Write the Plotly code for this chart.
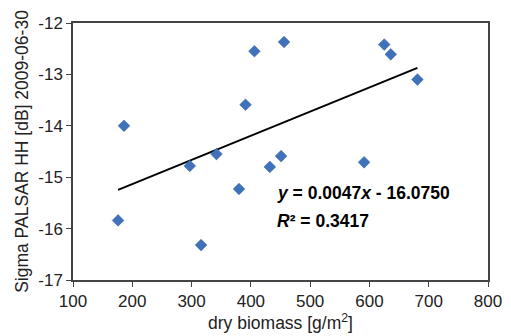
import plotly.graph_objects as go

# Data
dry_biomass = [176, 186, 297, 316, 342, 380, 391, 406, 432, 451, 456, 591, 625, 636, 681]
sigma_hh = [-15.84, -14.00, -14.78, -16.32, -14.55, -15.23, -13.59, -12.55, -14.80, -14.59,
            -12.37, -14.71, -12.42, -12.61, -13.10]

# Linear trend line parameters (as printed in chart)
slope = 0.0047
intercept = -16.0750
r_squared = 0.3417

x_tick_vals = [100, 200, 300, 400, 500, 600, 700, 800]
x_tick_text = ["100", "200", "300", "400", "500", "600", "700", "800"]
y_tick_vals = [-17, -16, -15, -14, -13, -12]
y_tick_text = ["-17", "-16", "-15", "-14", "-13", "-12"]

x_line = [min(dry_biomass), max(dry_biomass)]
y_line = [slope * v + intercept for v in x_line]

font_family = "Liberation Sans, Arial, sans-serif"

fig = go.Figure()
fig.add_trace(go.Scatter(
    x=x_line, y=y_line, mode="lines",
    line=dict(color="black", width=2), showlegend=False, hoverinfo="skip"))
fig.add_trace(go.Scatter(
    x=dry_biomass, y=sigma_hh, mode="markers",
    marker=dict(symbol="diamond", size=9, color="#3F72BA",
                line=dict(color="#2F5C9E", width=0.5)),
    showlegend=False))

fig.add_annotation(x=441, y=-15.31, xref="x", yref="y", xanchor="left", yanchor="middle",
                   text="<b><i>y</i> = %.4f<i>x</i> - %.4f</b>" % (slope, abs(intercept)),
                   showarrow=False, font=dict(size=17.5, color="black", family=font_family))
fig.add_annotation(x=441, y=-15.85, xref="x", yref="y", xanchor="left", yanchor="middle",
                   text="<b><i>R</i>² = %.4f</b>" % r_squared,
                   showarrow=False, font=dict(size=17.5, color="black", family=font_family))

fig.update_layout(
    width=511, height=336,
    margin=dict(l=73, r=23, t=23, b=56),
    paper_bgcolor="white", plot_bgcolor="white",
    font=dict(family=font_family, size=17, color="#222"),
)
fig.update_xaxes(
    range=[100, 800], tickvals=x_tick_vals, ticktext=x_tick_text,
    showgrid=False, zeroline=False,
    showline=True, mirror=True, linecolor="#444", linewidth=1.5,
    ticks="outside", ticklen=5, tickcolor="#444",
    title=dict(text="dry biomass [g/m<sup>2</sup>]", font=dict(size=17.5), standoff=5),
    automargin=False,
)
fig.update_yaxes(
    range=[-17, -12], tickvals=y_tick_vals, ticktext=y_tick_text,
    showgrid=False, zeroline=False,
    showline=True, mirror=True, linecolor="#444", linewidth=1.5,
    ticks="outside", ticklen=5, tickcolor="#444",
    title=dict(text="Sigma PALSAR HH [dB] 2009-06-30", font=dict(size=17.5), standoff=5),
    automargin=False,
)

fig.write_html("out.html")
